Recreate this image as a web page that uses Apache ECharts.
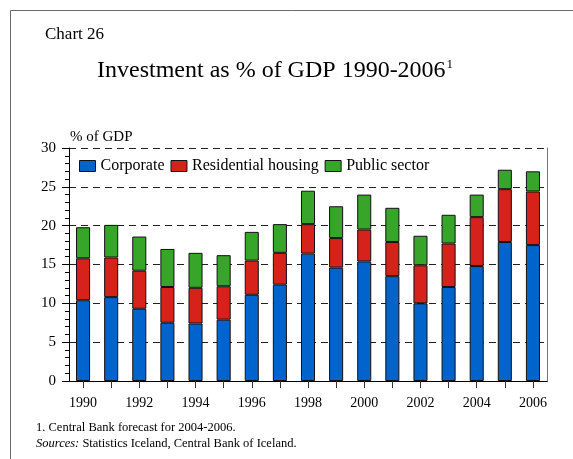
<!DOCTYPE html>
<html>
<head>
<meta charset="utf-8">
<script src="https://cdn.jsdelivr.net/npm/echarts@6/dist/echarts.min.js"></script>
<style>
  html, body { margin: 0; padding: 0; background: #fff; }
  #chart { width: 573px; height: 459px; }
</style>
</head>
<body>
<div id="chart"></div>
<script>
// Investment as % of GDP, split by sector
const years = ['1990','1991','1992','1993','1994','1995','1996','1997','1998',
               '1999','2000','2001','2002','2003','2004','2005','2006'];
const corporate   = [10.4, 10.8, 9.3, 7.5, 7.4, 7.9, 11.1, 12.4, 16.4, 14.6, 15.4, 13.5, 10.0, 12.1, 14.8, 17.9, 17.5];
const residential = [5.4, 5.1, 4.9, 4.6, 4.6, 4.3, 4.4, 4.1, 3.8, 3.8, 4.1, 4.4, 4.9, 5.6, 6.3, 6.8, 6.9];
const publicSector = [4.0, 4.2, 4.4, 4.9, 4.5, 4.0, 3.7, 3.7, 4.3, 4.1, 4.5, 4.4, 3.8, 3.7, 2.9, 2.5, 2.6];
const yTicks = { min: 0, max: 30, step: 5 };

const serif = '"Liberation Serif", "DejaVu Serif", serif';
const chart = echarts.init(document.getElementById('chart'), null, { renderer: 'canvas' });

function barSeries(name, data, color) {
  return {
    name: name,
    type: 'bar',
    stack: 'total',
    barWidth: '50%',
    data: data,
    itemStyle: { color: color, borderColor: '#111', borderWidth: 1 }
  };
}

chart.setOption({
  animation: false,
  backgroundColor: '#fff',
  textStyle: { fontFamily: serif, color: '#000' },
  graphic: [
    {
      type: 'rect',
      shape: { x: 10.5, y: 10.5, width: 700, height: 700 },
      style: { fill: null, stroke: '#6a6a6a', lineWidth: 1 },
      silent: true
    }
  ],
  title: [
    {
      text: 'Chart 26',
      left: 45, top: 26, padding: 0,
      textStyle: { fontFamily: serif, fontSize: 17, fontWeight: 'normal', color: '#000' }
    },
    {
      text: 'Investment as % of GDP 1990-2006{sup|1}',
      left: 97, top: 58, padding: 0,
      textStyle: {
        fontFamily: serif, fontSize: 24, fontWeight: 'normal', color: '#000',
        rich: { sup: { fontFamily: serif, fontSize: 13, verticalAlign: 'top', padding: [0, 0, 12, 1] } }
      }
    },
    {
      text: '% of GDP',
      left: 70, top: 130, padding: 0,
      textStyle: { fontFamily: serif, fontSize: 15, fontWeight: 'normal', color: '#000' }
    },
    {
      text: '1. Central Bank forecast for 2004-2006.\n{it|Sources:} Statistics Iceland, Central Bank of Iceland.',
      left: 36, top: 420, padding: 0,
      textStyle: {
        fontFamily: serif, fontSize: 12.5, fontWeight: 'normal', color: '#000', lineHeight: 16,
        rich: { it: { fontFamily: serif, fontSize: 12.5, fontStyle: 'italic', lineHeight: 16 } }
      }
    }
  ],
  legend: {
    left: 79, top: 158, padding: 0,
    itemWidth: 16, itemHeight: 11, itemGap: 6,
    icon: 'rect',
    textStyle: { fontFamily: serif, fontSize: 16, color: '#000' },
    itemStyle: { borderColor: '#111', borderWidth: 1 },
    data: ['Corporate', 'Residential housing', 'Public sector']
  },
  grid: { left: 69, right: 26, top: 148, bottom: 78, containLabel: false },
  xAxis: [
    {
      type: 'category',
      data: years,
      boundaryGap: true,
      axisLine: { show: true, lineStyle: { color: '#000', width: 1 } },
      axisTick: { show: true, interval: 0, alignWithLabel: true, length: 7, lineStyle: { color: '#333' } },
      axisLabel: { interval: 1, margin: 15, fontFamily: serif, fontSize: 14, color: '#000' },
      splitLine: { show: false }
    },
    {
      type: 'category',
      data: years,
      position: 'top',
      axisLine: { show: true, lineStyle: { color: '#000', width: 1 } },
      axisTick: { show: false },
      axisLabel: { show: false },
      splitLine: { show: false }
    }
  ],
  yAxis: [
    {
      type: 'value',
      min: yTicks.min, max: yTicks.max, interval: yTicks.step,
      axisLine: { show: true, lineStyle: { color: '#000', width: 1 } },
      axisTick: { show: true, length: 7, lineStyle: { color: '#000' } },
      minorTick: { show: true, splitNumber: 5, length: 4, lineStyle: { color: '#000' } },
      axisLabel: { margin: 13, fontFamily: serif, fontSize: 15, color: '#000' },
      splitLine: { show: true, lineStyle: { color: '#222', width: 1, type: [7, 5] } }
    },
    {
      type: 'value',
      position: 'right',
      min: yTicks.min, max: yTicks.max, interval: yTicks.step,
      axisLine: { show: true, lineStyle: { color: '#777', width: 1 } },
      axisTick: { show: false },
      axisLabel: { show: false },
      splitLine: { show: false }
    }
  ],
  series: [
    barSeries('Corporate', corporate, '#0064CC'),
    barSeries('Residential housing', residential, '#D6221B'),
    barSeries('Public sector', publicSector, '#37A52A')
  ]
});
</script>
</body>
</html>
